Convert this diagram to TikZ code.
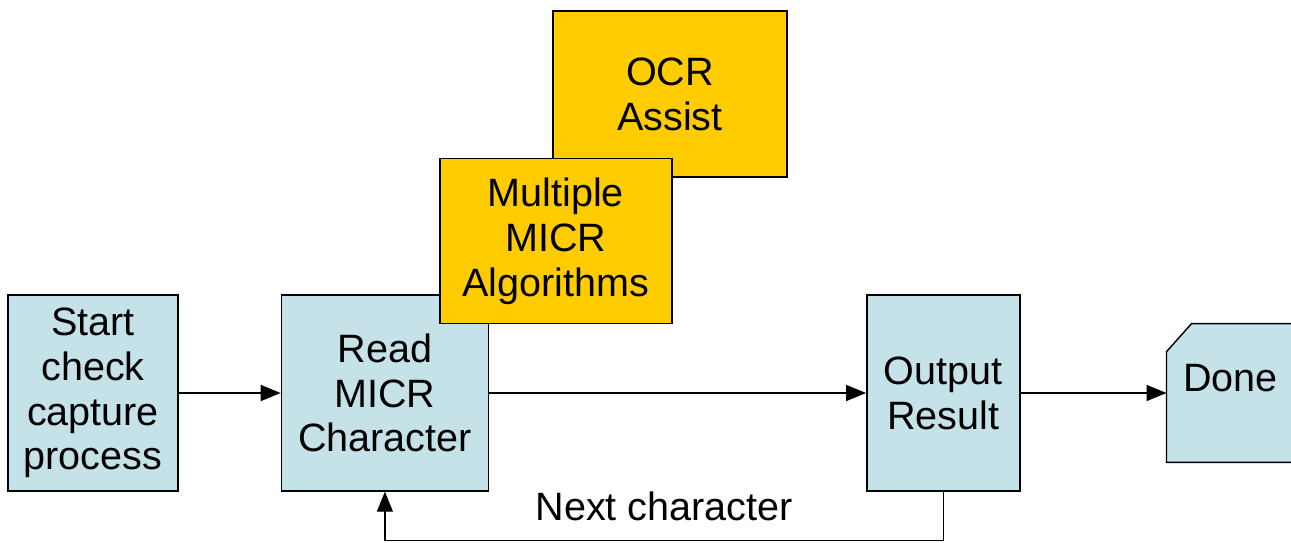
\documentclass[tikz,border=0pt]{standalone}
\usepackage{fontspec}
\setmainfont{Liberation Sans}
\usepackage{xcolor}
\usepackage{tikz}
\usetikzlibrary{positioning, arrows.meta, backgrounds, calc}
\definecolor{paleblue}{RGB}{196,226,231}
\definecolor{gold}{RGB}{255,204,0}
\tikzstyle{stage}=[%
      rectangle, draw=black, line width=0.8pt, fill=paleblue,
      minimum height=3.92cm, inner sep=2pt, align=center
]
\tikzstyle{alg}=[%
      rectangle, draw=black, line width=0.8pt, fill=gold,
      minimum width=4.64cm, minimum height=3.3cm, inner sep=2pt, align=center
]
\tikzstyle{flow}=[%
      line width=0.8pt, -{Triangle[length=0.4cm,width=0.32cm]}
]

\begin{document}
\begin{tikzpicture}[font=\fontsize{22.5}{25.5}\selectfont]
    \useasboundingbox (0,0) rectangle (25.82,10.84);

    \node[stage, minimum width=3.4cm]  (start)  at (1.86,2.98)        {Start\\check\\capture\\process};
    \node[stage, minimum width=4.14cm] (read)   [right = 2.04cm of start]  {Read\\MICR\\Character};
    \node[stage, minimum width=3.06cm] (output) [right = 7.54cm of read]   {Output\\Result};
    \node[rectangle, minimum width=2.54cm, minimum height=2.76cm, inner sep=2pt, text depth=0.6cm]
                                       (done)   [right = 2.92cm of output] {Done};
    \begin{scope}[on background layer]
      \draw[line width=0.8pt, fill=paleblue]
            ($(done.north west)+(0,-0.56)$) -- ($(done.north west)+(0.5,0)$)
            -- (done.north east) -- (done.south east) -- (done.south west) -- cycle;
    \end{scope}

    \node[alg, minimum width=4.68cm, minimum height=3.32cm] (ocr) at (13.4,8.96) {OCR\\Assist};
    \node[alg, anchor=south west] (multi) at ([xshift=-1cm,yshift=-0.6cm]read.north east)
          {Multiple\\MICR\\Algorithms};

    \draw[flow] (start) -- (read);
    \draw[flow] (read) -- (output);
    \draw[flow] (output) -- (done);
    \draw[flow] (output.south) -- ++(0,-0.98) coordinate (loop)
          -| node[pos=0.25, above, inner sep=0pt, yshift=0.38cm] (next) {Next character} (read.south);

\end{tikzpicture}
\end{document}
